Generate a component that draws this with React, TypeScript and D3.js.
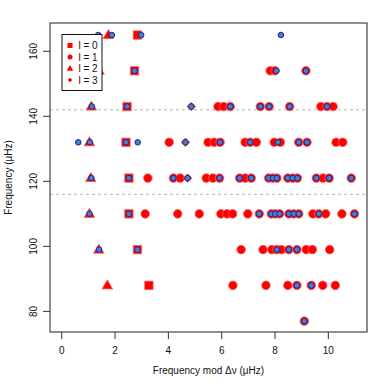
import * as d3 from 'd3';

// échelle diagram: frequency mod Δν (x) vs frequency row (y)
const rowFreqs = [165, 154, 143, 132, 121, 110, 99, 88, 77];

// model frequencies, by degree l, one array per row
const modelL0 = [[165, 2.84], [154, 2.73], [143, 2.45], [132, 2.41], [121, 2.52], [110, 2.52], [99, 2.84], [88, 3.27]];
const modelL2 = [[165, 1.75], [154, 1.4], [143, 1.11], [132, 1.04], [121, 1.09], [110, 1.04], [99, 1.39], [88, 1.71]];
const modelL3 = [[143, 4.86], [132, 4.64], [121, 4.72]];
const modelL1: Record<number, number[]> = {
  154: [7.82, 8.0, 9.16],
  143: [5.86, 6.07, 6.32, 7.45, 7.78, 8.55, 9.72, 9.95, 10.18],
  132: [4.03, 5.49, 5.72, 5.94, 6.88, 7.07, 7.3, 7.97, 8.2, 8.89, 9.2, 10.29, 10.54],
  121: [3.23, 4.19, 4.44, 5.42, 5.67, 5.92, 6.67, 6.88, 7.11, 7.76, 7.92, 8.07, 8.48, 8.66, 8.84, 9.55, 9.8, 10.03, 10.86],
  110: [3.13, 4.35, 5.16, 5.97, 6.2, 6.41, 6.98, 7.41, 7.86, 8.01, 8.17, 8.52, 8.7, 8.89, 9.42, 9.64, 9.9, 10.51, 10.98],
  99: [6.73, 7.55, 7.88, 8.07, 8.24, 8.52, 8.82, 9.17, 9.4, 10.05],
  88: [6.42, 7.66, 8.48, 8.82, 9.36, 9.79, 10.26],
  77: [9.1],
};

// observed frequencies
const observed: Record<number, number[]> = {
  165: [1.37, 1.88, 2.98, 8.22],
  154: [2.73, 8.05, 9.16],
  143: [1.13, 2.45, 4.86, 6.32, 7.45, 7.78, 8.55, 9.95],
  132: [0.62, 1.06, 2.41, 2.85, 4.64, 5.94, 7.07, 8.11, 8.89, 9.2],
  121: [1.11, 2.52, 4.19, 4.72, 5.92, 6.67, 7.11, 7.76, 7.92, 8.07, 8.48, 8.66, 8.84, 9.55, 10.03, 10.86],
  110: [1.04, 2.52, 7.41, 7.86, 8.01, 8.17, 8.52, 8.7, 8.89, 9.64, 10.98],
  99: [1.4, 2.84, 8.07, 8.52, 8.82],
  88: [8.82, 9.36],
  77: [9.1],
};

const xTicks = [0, 2, 4, 6, 8, 10];
const yTicks = [80, 100, 120, 140, 160];
const dashedFreqs = [142, 116];
const legendLabels = ['l = 0', 'l = 1', 'l = 2', 'l = 3'];

const W = 390;
const H = 390;
const left = 50;
const right = 367;
const top = 23;
const bottom = 332;

const RED = '#ff0000';
const font = '"Liberation Sans", Arial, Helvetica, sans-serif';

const square = (s: number) => d3.symbol(d3.symbolSquare, s * s)();
const triangle = (w: number) => d3.symbol(d3.symbolTriangle, (Math.sqrt(3) / 4) * w * w)();
const diamond = (h: number) => `M0,${-h}L${h},0L0,${h}L${-h},0Z`;

export default function App() {
  const x = d3.scaleLinear().domain([-0.44, 11.45]).range([left, right]);
  const y = d3.scaleLinear().domain([73.66, 168.7]).range([bottom, top]);

  const l1Points = rowFreqs.flatMap((f) => (modelL1[f] || []).map((v) => [f, v]));
  const obsPoints = rowFreqs.flatMap((f) => (observed[f] || []).map((v) => [f, v]));

  return (
    <div style={{ position: 'fixed', left: 0, top: 0 }}>
      <svg width={W} height={H} style={{ display: 'block', background: '#fff' }} fontFamily={font}>
        {dashedFreqs.map((f) => (
          <line key={f} x1={left} x2={right} y1={y(f)} y2={y(f)} stroke="#b5b5b5" strokeDasharray="3,3" />
        ))}

        {/* model modes */}
        <g fill={RED} stroke="#ff5a5a" strokeWidth={0.8}>
          {l1Points.map(([f, v], i) => (
            <circle key={'c' + i} cx={x(v)} cy={y(f)} r={4.3} />
          ))}
          {modelL0.map(([f, v], i) => (
            <path key={'s' + i} d={square(8.4)!} transform={`translate(${x(v)},${y(f)})`} />
          ))}
          {modelL2.map(([f, v], i) => (
            <path key={'t' + i} d={triangle(10.5)!} transform={`translate(${x(v)},${y(f) + 0.5})`} />
          ))}
          {modelL3.map(([f, v], i) => (
            <path key={'d' + i} d={diamond(4.3)} transform={`translate(${x(v)},${y(f)})`} />
          ))}
        </g>

        {/* observed modes */}
        <g fill="#4b7bcc" stroke="#1b2a8c" strokeWidth={1}>
          {obsPoints.map(([f, v], i) => (
            <circle key={'o' + i} cx={x(v)} cy={y(f)} r={2.8} />
          ))}
        </g>

        {/* box */}
        <rect x={left} y={top} width={right - left} height={bottom - top} fill="none" stroke="#444" strokeWidth={1.2} />

        {/* x axis */}
        {xTicks.map((t) => (
          <g key={t}>
            <line x1={x(t)} x2={x(t)} y1={bottom} y2={bottom + 7} stroke="#333" />
            <text x={x(t)} y={353.5} fontSize={10} textAnchor="middle" fill="#111">
              {t}
            </text>
          </g>
        ))}
        <text x={(left + right) / 2} y={374} fontSize={10} textAnchor="middle" fill="#111">
          Frequency mod Δν (μHz)
        </text>

        {/* y axis */}
        {yTicks.map((t) => (
          <g key={t}>
            <line x1={left - 7} x2={left} y1={y(t)} y2={y(t)} stroke="#333" />
            <text transform={`translate(36.5,${y(t)}) rotate(-90)`} fontSize={10} textAnchor="middle" fill="#111">
              {t}
            </text>
          </g>
        ))}
        <text transform={`translate(12,${(top + bottom) / 2}) rotate(-90)`} fontSize={10} textAnchor="middle" fill="#111">
          Frequency (μHz)
        </text>

        {/* legend */}
        <g>
          <rect x={62} y={34.5} width={40} height={56} fill="#fff" stroke="#111" strokeWidth={1} />
          {legendLabels.map((lab, i) => {
            const cy = 45.5 + i * 11.5;
            let mark;
            if (i === 0) mark = <path d={square(5)!} transform={`translate(70,${cy})`} fill={RED} />;
            else if (i === 1) mark = <circle cx={70} cy={cy} r={2.5} fill={RED} />;
            else if (i === 2) mark = <path d={triangle(6.5)!} transform={`translate(70,${cy + 0.3})`} fill={RED} />;
            else mark = <path d={diamond(2.3)} transform={`translate(70,${cy})`} fill={RED} />;
            return (
              <g key={lab}>
                {mark}
                <text x={78.5} y={cy + 3.5} fontSize={10} fill="#111">
                  {lab}
                </text>
              </g>
            );
          })}
        </g>
      </svg>
    </div>
  );
}
